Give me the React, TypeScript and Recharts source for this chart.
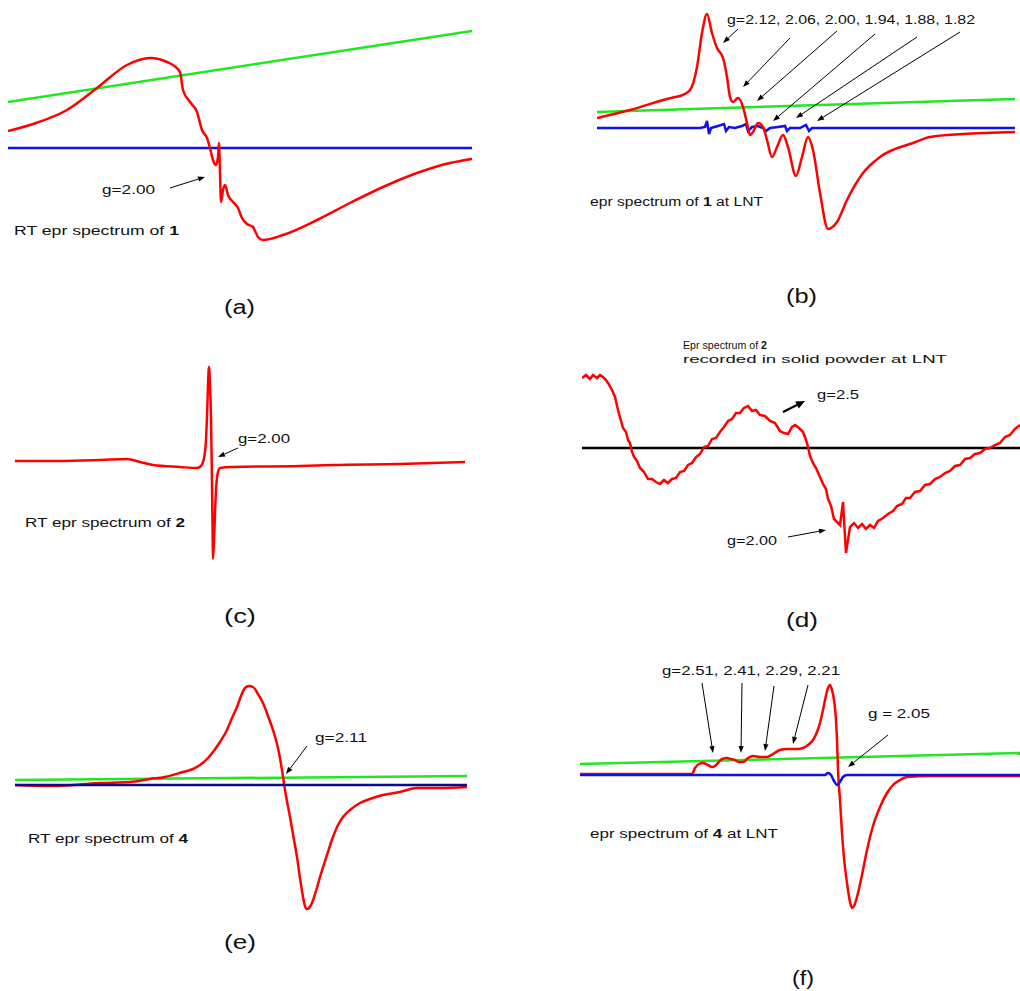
import React from "react";
import { LineChart, Line, XAxis, YAxis, ReferenceLine } from "recharts";

// spectra are stored as [field, signal] pairs in arbitrary units
const redA = [
	[0, 17], [25, 24], [59, 38], [89, 60], [119, 83], [142, 90], [159, 86], [172, 76],
	[175, 58], [182, 46], [189, 36], [194, 18], [199, 10], [202, 0], [205, -12], [208, -17],
	[210, -9], [211, 5], [212, -25], [213, -54], [215, -42], [217, -37], [220, -47], [225, -54],
	[230, -60], [234, -70], [239, -76], [245, -79], [250, -89], [255, -92], [275, -87], [309, -72],
	[342, -55], [375, -39], [409, -25], [442, -15], [464, -11],
];
const greenA = [[0, 46], [464, 117]];
const blueA = [[0, 0], [464, 0]];

const redB = [
	[0, 10], [33, 18], [78, 31], [83, 32], [93, 38], [100, 61], [105, 95], [110, 114],
	[115, 95], [120, 80], [126, 70], [130, 51], [133, 31], [136, 26], [141, 30], [146, 21],
	[150, 5], [153, -7], [156, -4], [161, 5], [166, 1], [170, -12], [175, -29], [180, -19],
	[186, -7], [191, -19], [199, -48], [205, -29], [211, -9], [216, -22], [223, -65], [231, -101],
	[240, -94], [250, -72], [266, -45], [283, -29], [316, -15], [333, -9], [366, -6], [418, -4],
];
const greenB = [[0, 16], [418, 29]];
const blueB = [
	[0, 0], [103, 0], [108, 1], [110, 7], [112, -6], [114, 0], [121, 2], [127, 4], [129, -3],
	[132, 1], [138, 0], [145, 2], [149, 4], [151, -3], [155, 1], [161, 2], [166, 0], [169, -3],
	[173, 0], [181, 1], [188, 2], [190, -3], [193, 0], [203, 0], [209, 3], [212, -3], [215, 0],
	[418, 0],
];

const redC = [
	[0, 0], [45, 0], [85, 1], [112, 2], [125, -1], [138, -4], [165, -6], [182, -7], [186, -5],
	[189, 3], [191, 21], [192, 44], [193, 76], [194, 94], [195, 76], [196, 44], [197, -22],
	[197.7, -79], [198, -98], [199, -79], [201, -29], [203, -11], [205, -7], [218, -6],
	[285, -5], [318, -4], [385, -3], [450, -1],
];

const redD = [
	[0, 70], [4, 73], [8, 69], [11, 73], [15, 70], [18, 73], [21, 71], [24, 68], [26, 65],
	[30, 58], [33, 51], [36, 38], [39, 27], [41, 20], [44, 16], [46, 8], [48, 5], [50, -4],
	[52, -9], [55, -13], [58, -20], [62, -24], [66, -31], [70, -31], [74, -34], [78, -36],
	[82, -32], [86, -35], [90, -31], [94, -30], [98, -24], [102, -23], [106, -17], [110, -15],
	[114, -9], [118, -6], [122, 1], [126, 2], [130, 9], [134, 10], [138, 16], [142, 21],
	[146, 27], [150, 29], [154, 35], [158, 35], [162, 40], [166, 42], [170, 37], [174, 38],
	[178, 33], [183, 32], [188, 27], [193, 25], [198, 17], [202, 15], [206, 14], [210, 21],
	[213, 23], [217, 20], [221, 16], [224, 8], [226, 1], [228, -8], [231, -15], [234, -20],
	[238, -29], [241, -36], [244, -41], [246, -51], [249, -58], [252, -71], [255, -74],
	[258, -77], [260, -62], [261, -54], [262, -72], [264, -105], [266, -92], [268, -79],
	[272, -75], [276, -80], [280, -76], [284, -81], [288, -77], [292, -80], [296, -73],
	[301, -70], [306, -66], [311, -63], [315, -58], [320, -56], [324, -50], [328, -50],
	[333, -44], [338, -43], [343, -37], [348, -36], [353, -31], [358, -29], [363, -25],
	[368, -23], [373, -18], [378, -17], [383, -11], [388, -10], [393, -6], [398, -5], [403, -1],
	[408, 0], [413, 3], [418, 5], [423, 11], [428, 13], [433, 19], [438, 23],
];
const baseD = [[0, 0], [438, 0]];

const redE = [
	[0, 0], [35, -1], [85, 2], [115, 3], [135, 6], [150, 8], [168, 13], [178, 16], [185, 20],
	[192, 26], [198, 33], [205, 43], [212, 55], [217, 67], [222, 78], [226, 89], [230, 97],
	[234, 99], [238, 98], [243, 91], [248, 82], [253, 69], [258, 55], [263, 37], [267, 15],
	[270, -5], [275, -32], [279, -55], [282, -72], [285, -93], [288, -112], [290, -121],
	[292, -124], [294, -123], [297, -118], [301, -106], [305, -92], [311, -73], [318, -52],
	[323, -40], [328, -32], [335, -25], [345, -18], [355, -14], [368, -10], [385, -7],
	[402, -3], [425, -3], [452, -2],
];
const greenE = [[0, 5], [452, 9]];
const blueE = [[0, 0], [452, 0]];

const redF = [
	[0, 1], [112, 1], [115, 7], [119, 11], [123, 12], [128, 10], [132, 8], [135, 9], [138, 12],
	[142, 16], [147, 17], [151, 16], [155, 15], [159, 13], [163, 13], [168, 17], [173, 19],
	[180, 18], [187, 18], [193, 21], [200, 25], [207, 26], [213, 26], [218, 26], [223, 27],
	[228, 30], [233, 35], [237, 43], [240, 52], [243, 65], [245, 75], [248, 87], [250, 90],
	[252, 85], [254, 75], [256, 55], [257, 35], [258, 5], [260, -25], [262, -58], [264, -83],
	[267, -108], [270, -127], [272, -133], [274, -131], [277, -122], [282, -100], [287, -75],
	[293, -51], [300, -32], [307, -18], [313, -10], [320, -5], [327, -2], [350, -1], [440, -1],
];
const greenF = [[0, 11], [440, 22]];
const blueF = [
	[0, 0], [245, 0], [248, 2], [251, 0], [254, -6], [257, -10], [260, -7], [263, -2],
	[267, 0], [440, 0],
];

// annotation arrows: [from, to] in the same units as the spectra
const arrowsA = [[[162, -40], [197, -29]]];
const arrowsB = [
	[[141, 99], [126, 85]],
	[[193, 90], [146, 41]],
	[[240, 97], [160, 27]],
	[[278, 94], [176, 7]],
	[[320, 91], [199, 10]],
	[[363, 96], [220, 7]],
];
const arrowsC = [[[223, 13], [203, 4]]];
const arrowsD = [[[206, -89], [244, -82]]];
const boldArrowsD = [[[201, 36], [223, 47]]];
const arrowsE = [[[292, 39], [271, 11]]];
const arrowsF = [
	[[122, 92], [133, 22]],
	[[162, 92], [161, 22]],
	[[194, 89], [185, 24]],
	[[228, 90], [213, 31]],
	[[308, 40], [268, 8]],
];

const RED = "#ff0000";
const GREEN = "#22e622";
const BLUE = "#1010e8";
const NAVY = "#0a0a8c";
const FONT = "'Liberation Sans', Arial, sans-serif";

const pts = (a: number[][]) => a.map(([x, y]) => ({ x, y }));

const arrowShape = (len: number, half: number, sw: number) => (p: any) => {
	const { x1, y1, x2, y2 } = p;
	const dx = x2 - x1;
	const dy = y2 - y1;
	const d = Math.hypot(dx, dy) || 1;
	const ux = dx / d;
	const uy = dy / d;
	const bx = x2 - ux * len;
	const by = y2 - uy * len;
	const head = `${x2},${y2} ${bx - uy * half},${by + ux * half} ${bx + uy * half},${by - ux * half}`;
	return (
		<g>
			<line x1={x1} y1={y1} x2={bx} y2={by} stroke="#000" strokeWidth={sw} />
			<polygon points={head} fill="#000" />
		</g>
	);
};

type Series = { data: number[][]; color: string; width?: number; linear?: boolean };
type Frame = { left: number; top: number; w: number; h: number; base: number };

const Panel = ({
	frame,
	series,
	arrows = [],
	boldArrows = [],
}: {
	frame: Frame;
	series: Series[];
	arrows?: number[][][];
	boldArrows?: number[][][];
}) => {
	const { left, top, w, h, base } = frame;
	return (
		<div style={{ position: "absolute", left, top, width: w, height: h }}>
			<LineChart width={w} height={h} margin={{ top: 0, right: 0, bottom: 0, left: 0 }}>
				<XAxis type="number" dataKey="x" domain={[0, w]} hide />
				<YAxis type="number" dataKey="y" domain={[base - top - h, base - top]} hide />
				{series.map((s, i) => (
					<Line
						key={i}
						data={pts(s.data)}
						dataKey="y"
						type={s.linear ? "linear" : "monotone"}
						stroke={s.color}
						strokeWidth={s.width ?? 2.5}
						dot={false}
						activeDot={false}
						isAnimationActive={false}
					/>
				))}
				{arrows.map((a, i) => (
					<ReferenceLine
						key={"a" + i}
						segment={[
							{ x: a[0][0], y: a[0][1] },
							{ x: a[1][0], y: a[1][1] },
						]}
						shape={arrowShape(7, 2.6, 1)}
					/>
				))}
				{boldArrows.map((a, i) => (
					<ReferenceLine
						key={"b" + i}
						segment={[
							{ x: a[0][0], y: a[0][1] },
							{ x: a[1][0], y: a[1][1] },
						]}
						shape={arrowShape(9, 4, 2.2)}
					/>
				))}
			</LineChart>
		</div>
	);
};

// text labels: [plain, bold, plain]
type Note = { x: number; y: number; fs: number; w: number; parts: string[] };
const notes: Note[] = [
	{ x: 102, y: 194, fs: 13, w: 53, parts: ["g=2.00"] },
	{ x: 14, y: 235, fs: 12, w: 165, parts: ["RT epr spectrum of ", "1"] },
	{ x: 224, y: 314, fs: 20, w: 31, parts: ["(a)"] },
	{ x: 727, y: 24, fs: 13, w: 248, parts: ["g=2.12, 2.06, 2.00, 1.94, 1.88, 1.82"] },
	{ x: 590, y: 206, fs: 12, w: 173, parts: ["epr spectrum of ", "1", " at LNT"] },
	{ x: 786, y: 303, fs: 20, w: 31, parts: ["(b)"] },
	{ x: 238, y: 443, fs: 13, w: 52, parts: ["g=2.00"] },
	{ x: 25, y: 527, fs: 12, w: 160, parts: ["RT epr spectrum of ", "2"] },
	{ x: 224, y: 623, fs: 20, w: 32, parts: ["(c)"] },
	{ x: 683, y: 349, fs: 10.5, w: 84, parts: ["Epr spectrum of ", "2"] },
	{ x: 683, y: 363, fs: 10.5, w: 264, parts: ["recorded in solid powder at LNT"] },
	{ x: 817, y: 399, fs: 13, w: 42, parts: ["g=2.5"] },
	{ x: 727, y: 545, fs: 13, w: 50, parts: ["g=2.00"] },
	{ x: 786, y: 627, fs: 20, w: 32, parts: ["(d)"] },
	{ x: 315, y: 742, fs: 13, w: 52, parts: ["g=2.11"] },
	{ x: 28, y: 843, fs: 12, w: 160, parts: ["RT epr spectrum of ", "4"] },
	{ x: 224, y: 949, fs: 20, w: 32, parts: ["(e)"] },
	{ x: 662, y: 675, fs: 13, w: 178, parts: ["g=2.51, 2.41, 2.29, 2.21"] },
	{ x: 868, y: 718, fs: 13, w: 62, parts: ["g = 2.05"] },
	{ x: 590, y: 838, fs: 12, w: 188, parts: ["epr spectrum of ", "4", " at LNT"] },
	{ x: 792, y: 985, fs: 20, w: 22, parts: ["(f)"] },
];

export default function App() {
	return (
		<div
			style={{
				position: "absolute",
				left: 0,
				top: 0,
				width: 1020,
				height: 991,
				background: "#fff",
				overflow: "hidden",
			}}
		>
			<Panel
				frame={{ left: 8, top: 0, w: 470, h: 250, base: 148 }}
				series={[
					{ data: greenA, color: GREEN },
					{ data: blueA, color: BLUE },
					{ data: redA, color: RED },
				]}
				arrows={arrowsA}
			/>
			<Panel
				frame={{ left: 597, top: 0, w: 423, h: 250, base: 128 }}
				series={[
					{ data: greenB, color: GREEN },
					{ data: blueB, color: BLUE, linear: true },
					{ data: redB, color: RED },
				]}
				arrows={arrowsB}
			/>
			<Panel
				frame={{ left: 15, top: 330, w: 460, h: 250, base: 461 }}
				series={[{ data: redC, color: RED }]}
				arrows={arrowsC}
			/>
			<Panel
				frame={{ left: 582, top: 330, w: 438, h: 250, base: 448 }}
				series={[
					{ data: baseD, color: "#000" },
					{ data: redD, color: RED, linear: true },
				]}
				arrows={arrowsD}
				boldArrows={boldArrowsD}
			/>
			<Panel
				frame={{ left: 15, top: 660, w: 455, h: 260, base: 785 }}
				series={[
					{ data: greenE, color: GREEN },
					{ data: redE, color: RED },
					{ data: blueE, color: NAVY },
				]}
				arrows={arrowsE}
			/>
			<Panel
				frame={{ left: 580, top: 655, w: 440, h: 265, base: 775 }}
				series={[
					{ data: greenF, color: GREEN },
					{ data: redF, color: RED },
					{ data: blueF, color: BLUE },
				]}
				arrows={arrowsF}
			/>
			<svg
				width={1020}
				height={991}
				style={{ position: "absolute", left: 0, top: 0, pointerEvents: "none" }}
			>
				{notes.map((n, i) => (
					<text
						key={i}
						x={n.x}
						y={n.y}
						fontSize={n.fs}
						fontFamily={FONT}
						fill="#111"
						textLength={n.w}
						lengthAdjust="spacingAndGlyphs"
					>
						{n.parts.map((p, j) => (
							<tspan key={j} fontWeight={j === 1 ? "bold" : "normal"}>
								{p}
							</tspan>
						))}
					</text>
				))}
			</svg>
		</div>
	);
}
